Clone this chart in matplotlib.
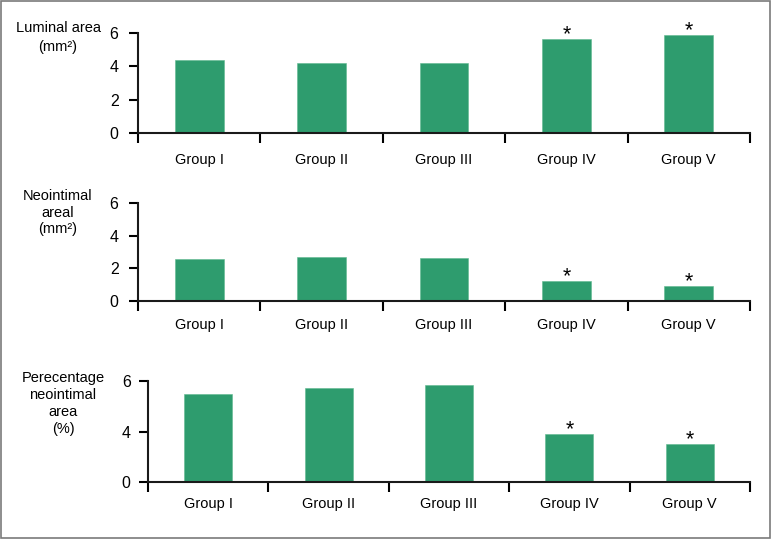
import numpy as np
import matplotlib
matplotlib.use('Agg')
import matplotlib.pyplot as plt
from matplotlib.patches import Rectangle

plt.rcParams['font.family'] = ['Liberation Sans', 'DejaVu Sans']

groups = ['Group I', 'Group II', 'Group III', 'Group IV', 'Group V']
luminal = [4.38, 4.18, 4.18, 5.64, 5.88]
neointimal = [2.57, 2.68, 2.64, 1.24, 0.92]
percentage = [5.49, 5.71, 5.84, 3.84, 3.04]
starred = [False, False, False, True, True]

bar_color = '#2e9c6e'
W, H = 771, 539


def fwd(y):
    y = np.asarray(y, dtype=float)
    return np.where(y <= 4, y / 4, 1 + (y - 4) / 2)


def inv(t):
    t = np.asarray(t, dtype=float)
    return np.where(t <= 1, t * 4, 4 + (t - 1) * 2)


def panel(fig, box, values, yticks, label_pad, tick_pad, broken=False):
    left, right, y0, y6 = box
    ax = fig.add_axes([left / W, 1 - y0 / H, (right - left) / W, (y0 - y6) / H])
    if broken:
        # the bottom axis is not linear: 0-4 and 4-6 take the same height
        ax.set_yscale('function', functions=(fwd, inv))
    x = np.arange(len(groups))
    ax.bar(x, values, width=0.4, color=bar_color, edgecolor='#5fb88f', linewidth=0.4)
    for xi, v, s in zip(x, values, starred):
        if s:
            ax.annotate('*', (xi, v), xytext=(0, 3), textcoords='offset points',
                        ha='center', va='center', fontsize=15.5)
    ax.set_xlim(-0.5, len(groups) - 0.5)
    ax.set_ylim(0, 6)
    ax.set_yticks(yticks)
    ax.set_yticklabels([str(t) for t in yticks])
    ax.set_xticks(np.arange(len(groups) + 1) - 0.5)
    ax.set_xticklabels([])
    ax.set_xticks(x, minor=True)
    ax.set_xticklabels(groups, minor=True)
    ax.tick_params(axis='x', which='major', direction='out', length=7.5, width=1.5)
    ax.tick_params(axis='x', which='minor', length=0, pad=label_pad, labelsize=10.5)
    ax.tick_params(axis='y', direction='out', length=6.5, width=1.5, pad=tick_pad, labelsize=11.5)
    for sp in ['top', 'right']:
        ax.spines[sp].set_visible(False)
    for sp in ['left', 'bottom']:
        ax.spines[sp].set_linewidth(1.5)
        ax.spines[sp].set_color('#1a1a1a')
    ax.spines['left'].set_bounds(0, 6)
    ax.patch.set_alpha(0)
    return ax


fig = plt.figure(figsize=(W / 100, H / 100), dpi=100)

panel(fig, (138, 750, 133, 33), luminal, [0, 2, 4, 6], 14.5, 7.5)
panel(fig, (138, 750, 301, 203), neointimal, [0, 2, 4, 6], 12, 7.5)
panel(fig, (148, 750, 482, 381), percentage, [0, 4, 6], 11, 6, broken=True)

fig.text(58 / W, 1 - 21 / H, 'Luminal area\n(mm²)', ha='center', va='top',
         fontsize=10.5, linespacing=1.45)
fig.text(58 / W, 1 - 189 / H, 'Neointimal\nareal\n(mm²)', ha='center', va='top',
         fontsize=10.5, linespacing=1.25)
fig.text(63 / W, 1 - 371 / H, 'Perecentage\nneointimal\narea\n(%)', ha='center', va='top',
         fontsize=10.5, linespacing=1.28)

fig.patches.append(Rectangle((0.001, 0.001), 0.998, 0.997, transform=fig.transFigure,
                             fill=False, edgecolor='#7a7a7a', linewidth=1.2))

fig.savefig('out.png', dpi=100)
